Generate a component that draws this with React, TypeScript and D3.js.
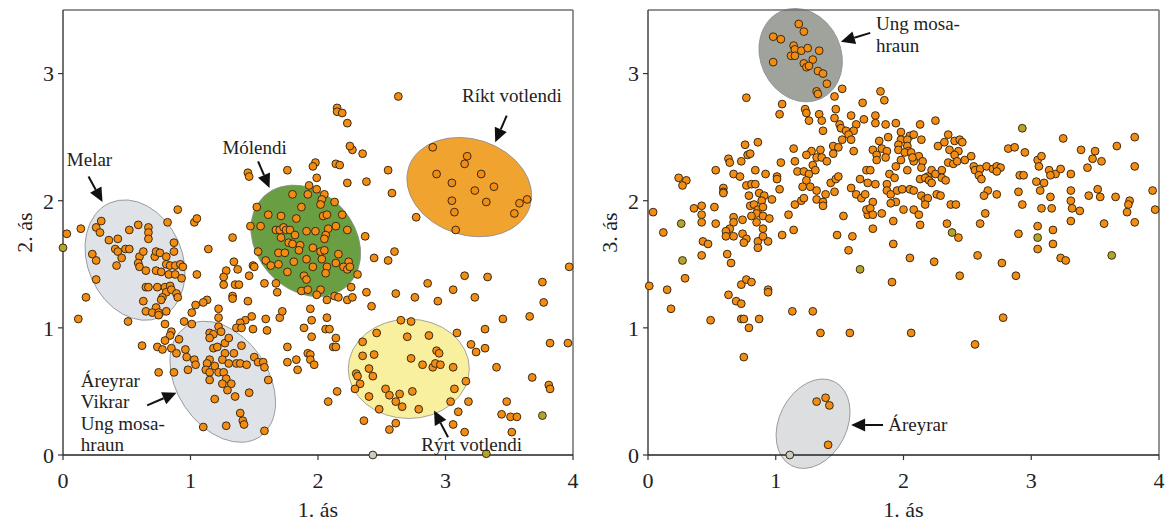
import React from "react";
import * as d3 from "d3";

// Tick values shared by both panels
const xTicks = [0, 1, 2, 3, 4];
const yTicks = [0, 1, 2, 3];

// Panel 1: axis 1 vs axis 2 site scores
const leftPoints: [number, number][] = [
  [0.30,1.84],[0.26,1.79],[0.29,1.75],[0.14,1.78],[0.03,1.74],
  [0.52,1.77],[0.59,1.81],[0.67,1.79],[0.67,1.75],[0.67,1.70],[0.82,1.83],[0.90,1.93],[1.03,1.83],[1.05,1.86],
  [0.36,1.69],[0.43,1.70],[0.41,1.62],[0.43,1.60],[0.49,1.62],[0.52,1.62],[0.23,1.58],[0.26,1.53],[0.46,1.55],[0.42,1.49],
  [0.60,1.56],[0.63,1.60],[0.59,1.51],[0.60,1.48],[0.65,1.45],[0.72,1.56],[0.73,1.60],[0.76,1.59],[0.81,1.56],[0.87,1.67],[0.87,1.60],
  [0.81,1.50],[0.73,1.45],[0.77,1.44],[0.84,1.49],[0.88,1.49],[0.92,1.50],[0.94,1.48],[0.83,1.42],[0.88,1.42],[0.93,1.39],
  [0.26,1.38],[0.18,1.24],[0.65,1.32],[0.67,1.32],[0.74,1.32],[0.80,1.32],[0.84,1.33],[0.81,1.28],[0.85,1.30],[0.89,1.27],[0.90,1.24],
  [0.78,1.24],[0.77,1.22],[0.63,1.21],[0.73,1.16],[0.65,1.13],[0.70,1.12],[0.75,1.12],[0.81,1.13],[0.75,1.10],[0.12,1.07],[0.51,1.05],
  [1.05,1.42],[1.14,1.62],[1.33,1.71],[1.34,1.52],[1.28,1.45],[1.26,1.40],[1.26,1.34],[1.37,1.46],[1.35,1.34],[1.38,1.34],[1.33,1.25],[1.33,1.23],
  [1.46,1.41],[1.45,1.21],[1.13,1.22],[1.10,1.20],[1.04,1.18],[1.22,1.15],[1.01,1.12],[1.22,1.08],[1.48,1.09],[1.43,1.06],[1.39,1.04],[1.36,1.00],[1.40,1.00],[1.49,0.99],
  [1.59,1.07],[1.60,0.98],[1.70,1.08],[1.72,1.13],
  [0.80,1.03],[0.95,1.05],[1.01,1.03],[0.85,0.97],[0.84,0.94],[0.80,0.90],[0.91,0.91],[0.62,0.86],[0.74,0.85],[0.78,0.83],[0.85,0.84],[0.89,0.80],[0.96,0.83],[0.97,0.77],[1.03,0.75],[1.04,0.71],
  [1.15,0.96],[1.18,0.95],[1.15,0.92],[1.22,1.01],[1.24,0.97],[1.18,0.84],[1.21,0.85],[1.27,0.88],[1.30,0.92],[1.40,0.86],[1.27,0.80],[1.34,0.80],[1.25,0.75],[1.30,0.72],[1.36,0.72],[1.39,0.72],[1.44,0.71],
  [1.50,0.77],[1.53,0.73],[1.57,0.73],[1.58,0.69],[1.15,0.75],[1.13,0.72],[1.12,0.67],[1.15,0.65],[1.19,0.70],[1.22,0.65],[1.26,0.65],[1.28,0.60],[1.32,0.56],[1.25,0.56],[1.15,0.59],
  [0.75,0.65],[0.87,0.65],[0.98,0.67],[1.76,0.85],[1.76,0.73],[1.83,0.75],[1.84,0.67],[1.61,0.59],
  [2.27,2.40],[2.35,2.37],[1.98,2.30],[1.96,2.27],[2.14,2.29],[2.17,2.28],[1.76,2.24],[1.45,2.22],[1.46,2.19],[2.55,2.24],[1.99,2.18],[2.23,2.14],[2.38,2.15],[1.93,2.12],[1.99,2.09],
  [1.80,2.05],[1.92,2.05],[2.05,2.05],[2.03,2.01],[2.13,1.99],[2.02,1.97],[2.58,2.06],[1.52,1.95],[1.61,1.89],[1.71,1.88],[1.87,1.95],[2.04,1.88],[2.07,1.89],[2.19,1.89],[1.83,1.86],
  [1.47,1.80],[1.55,1.80],[1.67,1.77],[1.70,1.77],[1.73,1.79],[1.75,1.77],[1.78,1.77],[1.71,1.71],[1.82,1.73],[1.91,1.76],[1.98,1.76],[2.08,1.78],[2.14,1.80],[2.23,1.77],[2.77,1.87],
  [2.06,1.73],[2.05,1.70],[1.77,1.67],[1.80,1.66],[1.86,1.65],[1.96,1.63],[2.02,1.60],[2.05,1.61],[1.85,1.61],[1.53,1.60],[1.69,1.59],[1.74,1.59],[2.16,1.58],[2.37,1.72],[2.44,1.55],[2.60,1.60],[2.55,1.53],
  [1.81,1.52],[1.91,1.54],[2.03,1.54],[2.14,1.51],[2.24,1.52],[1.59,1.53],[1.63,1.49],[1.69,1.50],[1.96,1.48],[2.07,1.48],[2.20,1.48],[2.23,1.46],[2.25,1.48],[1.76,1.44],[2.06,1.43],[1.89,1.41],[1.91,1.38],[2.31,1.42],
  [1.49,1.49],[1.50,1.48],[1.58,1.35],[1.67,1.35],[1.68,1.28],[1.87,1.29],[1.92,1.30],[2.02,1.30],[1.99,1.26],[2.07,1.22],[2.13,1.25],[2.16,1.24],[2.23,1.22],[2.27,1.24],[2.26,1.32],[2.38,1.28],[2.42,1.17],[2.61,1.27],[2.76,1.24],[2.86,1.35],[1.94,1.15],
  [2.63,2.82],[2.15,2.73],[2.15,2.70],[2.19,2.69],[2.23,2.61],[2.25,2.43],
  [2.90,2.42],[3.17,2.35],[3.15,2.29],[2.93,2.21],[3.28,2.21],[3.05,2.14],[3.38,2.11],[3.23,2.08],[3.05,2.00],[3.32,1.99],[3.58,1.98],[3.64,2.01],[3.07,1.91],[3.54,1.90],[3.08,1.77],
  [3.15,1.41],[3.33,1.40],[3.06,1.30],[2.94,1.21],[3.23,1.24],[3.76,1.36],[3.77,1.20],[3.97,1.48],[3.45,1.07],[3.66,1.09],[3.31,0.99],[3.20,0.87],[3.24,0.81],[3.31,0.84],[3.82,0.88],[3.96,0.88],
  [3.40,0.69],[3.68,0.61],[3.81,0.55],[3.82,0.52],[3.48,0.42],[3.44,0.32],[3.51,0.30],[3.56,0.30],[3.52,0.18],[3.15,0.18],[3.06,0.24],[3.10,0.34],[3.18,0.42],[3.04,0.42],[3.07,0.52],[3.16,0.58],[3.06,0.69],
  [2.93,0.82],[2.95,0.80],[3.09,0.96],[2.87,0.94],[2.70,0.93],[2.65,1.06],[2.73,1.05],[2.46,0.96],[2.35,0.89],[2.44,0.79],[2.35,0.78],[2.73,0.76],[2.82,0.71],[2.90,0.69],[2.92,0.72],[2.96,0.71],
  [2.40,0.68],[2.43,0.62],[2.30,0.64],[2.31,0.62],[2.33,0.56],[2.29,0.52],[2.40,0.46],[2.53,0.52],[2.56,0.47],[2.64,0.48],[2.61,0.42],[2.66,0.38],[2.74,0.50],[2.79,0.36],[2.48,0.36],[2.36,0.27],[2.61,0.25],[2.56,0.20],
  [2.15,0.50],[2.08,0.42],[1.95,1.06],[1.89,1.00],[2.07,1.08],[2.06,0.99],[2.09,0.99],[1.95,0.93],[2.14,0.92],[2.12,0.85],[2.14,0.85],[1.92,0.80],[1.94,0.79],[1.94,0.75],[1.97,0.71],
  [1.10,0.22],[1.19,0.44],[1.28,0.23],[1.29,0.51],[1.35,0.46],[1.46,0.49],[1.39,0.33],[1.41,0.27],[1.42,0.24],[1.58,0.19],
];
const leftOlivePoints: [number, number][] = [[0.00,1.63],[3.76,0.31],[3.32,0.01]];
const leftPalePoints: [number, number][] = [[2.43,0.0]];

// Panel 2: axis 1 vs axis 3 site scores
const rightPoints: [number, number][] = [
  [1.18,3.39],[1.22,3.33],[0.98,3.29],[1.04,3.27],[1.14,3.22],[1.15,3.19],[1.20,3.18],[1.25,3.20],[1.34,3.18],[1.12,3.14],[1.15,3.14],[1.22,3.08],[1.29,3.11],[1.24,3.05],[1.26,3.06],[0.98,3.09],[1.33,3.02],[1.37,3.00],[1.40,2.92],[1.32,2.86],[1.33,2.84],
  [0.77,2.81],[1.52,2.88],[1.82,2.86],[1.85,2.79],[1.05,2.76],[1.03,2.68],[1.46,2.82],[1.23,2.72],[1.24,2.69],[1.34,2.68],[1.47,2.72],[1.68,2.77],[1.26,2.63],[1.36,2.63],[1.46,2.65],[1.59,2.67],[1.69,2.64],[1.78,2.67],[1.78,2.61],[1.86,2.60],
  [1.50,2.60],[1.51,2.57],[1.63,2.60],[1.37,2.55],[1.55,2.55],[1.61,2.55],[1.57,2.52],[1.59,2.48],[1.52,2.48],[1.88,2.50],[1.81,2.47],[1.45,2.43],[1.49,2.42],[1.45,2.37],[1.14,2.41],[1.35,2.40],[1.28,2.39],[1.24,2.36],[1.32,2.34],[1.36,2.34],[1.40,2.31],
  [1.61,2.39],[1.76,2.40],[1.83,2.41],[1.87,2.39],[1.79,2.36],[1.86,2.34],[1.79,2.32],[0.76,2.44],[0.86,2.46],[0.78,2.36],[0.80,2.37],[0.63,2.33],[0.64,2.30],[0.73,2.31],[1.04,2.30],[1.15,2.31],[1.29,2.28],
  [0.53,2.24],[0.67,2.21],[0.72,2.19],[0.84,2.24],[0.92,2.21],[1.01,2.19],[1.01,2.17],[1.17,2.23],[1.22,2.23],[1.26,2.21],[1.31,2.24],[1.24,2.16],[1.27,2.11],[1.21,2.11],[1.32,2.08],[1.43,2.14],[1.47,2.17],[1.49,2.19],[1.46,2.07],[1.39,2.05],
  [1.66,2.17],[1.71,2.24],[1.74,2.24],[1.72,2.14],[1.78,2.13],[1.87,2.13],[1.87,2.08],[1.59,2.10],[1.63,2.05],[1.67,2.02],[1.70,2.05],[1.76,1.99],
  [0.24,2.18],[0.30,2.16],[0.27,2.12],[0.59,2.10],[0.59,2.07],[0.59,2.06],[0.77,2.12],[0.81,2.13],[0.84,2.13],[1.03,2.09],[0.79,2.04],[0.87,2.06],[0.91,2.04],[0.97,2.01],[0.80,1.96],[0.83,1.97],[0.89,2.00],[0.86,1.93],[0.90,1.95],[0.85,1.90],[0.81,1.88],[0.90,1.88],[0.95,1.86],[0.85,1.83],[0.90,1.78],
  [0.74,1.85],[0.67,1.87],[0.67,1.83],[0.64,1.78],[0.61,1.76],[0.61,1.72],[0.67,1.72],[0.74,1.74],[0.77,1.70],[0.75,1.67],[0.86,1.68],[0.94,1.68],[0.86,1.63],[0.90,1.72],
  [0.53,1.82],[0.52,1.95],[0.42,1.96],[0.36,1.94],[0.42,1.89],[0.42,1.83],[0.04,1.91],[0.12,1.75],[0.43,1.68],[0.47,1.66],[0.42,1.57],[0.62,1.58],[0.65,1.51],[0.29,1.39],[0.01,1.33],[0.15,1.30],[0.73,1.34],[0.77,1.38],[0.81,1.36],[0.94,1.30],
  [1.10,1.89],[1.05,1.73],[1.14,1.77],[1.15,1.97],[1.20,2.00],[1.22,2.02],[1.32,2.01],[1.37,1.99],[1.37,1.96],[1.53,1.88],[1.48,1.73],[1.60,1.72],[1.57,1.61],[1.76,1.78],[1.72,1.89],[1.71,1.93],[1.74,1.94],[1.76,1.89],[1.83,1.90],
  [1.94,2.61],[2.13,2.60],[2.25,2.63],[1.98,2.54],[1.98,2.48],[2.05,2.51],[2.08,2.52],[2.14,2.48],[2.03,2.48],[1.96,2.44],[1.96,2.40],[2.03,2.43],[2.04,2.39],[2.01,2.38],[2.06,2.38],[2.27,2.43],[2.32,2.46],[2.35,2.52],[2.40,2.47],[2.44,2.48],[2.46,2.46],[2.36,2.40],[2.43,2.39],[2.40,2.36],
  [2.12,2.35],[2.15,2.31],[2.08,2.31],[2.07,2.34],[1.98,2.32],[2.03,2.24],[1.94,2.27],[2.35,2.30],[2.39,2.29],[2.42,2.31],[2.48,2.32],[2.53,2.35],[2.14,2.26],[2.22,2.24],[2.25,2.21],[2.30,2.24],[2.19,2.19],[2.13,2.17],[2.17,2.18],[2.20,2.16],[2.22,2.14],[2.30,2.18],[2.33,2.16],
  [1.89,2.21],[1.93,2.18],[1.90,2.05],[1.95,2.08],[1.99,2.09],[2.05,2.09],[2.08,2.08],[1.94,1.99],[1.90,1.98],[2.14,2.04],[2.17,2.01],[2.19,2.02],[2.17,1.97],[2.26,2.05],[2.29,2.04],[2.00,1.93],[2.08,1.93],[2.12,1.89],[2.37,1.97],[2.41,1.97],
  [2.55,2.27],[2.56,2.24],[2.60,2.25],[2.65,2.27],[2.59,2.20],[2.61,2.17],[2.70,2.25],[2.73,2.27],[2.76,2.26],[2.73,2.23],[2.82,2.41],[2.87,2.42],[2.95,2.38],[2.66,2.08],[2.63,2.04],[2.73,2.05],[2.90,2.07],[2.93,1.97],[2.91,2.20],[2.94,2.20],
  [3.05,2.32],[3.08,2.35],[3.06,2.27],[3.04,2.15],[3.10,2.14],[3.07,2.08],[3.15,2.03],[3.08,1.94],[3.16,1.94],[3.14,2.24],[3.19,2.21],[3.15,2.20],[3.23,2.25],[3.25,2.49],[3.31,2.21],[3.31,2.08],[3.31,2.00],[3.32,1.94],[3.38,1.92],[3.31,1.84],
  [3.39,2.40],[3.50,2.39],[3.48,2.33],[3.55,2.31],[3.44,2.26],[3.67,2.43],[3.52,2.09],[3.45,2.04],[3.54,2.03],[3.66,2.03],[3.77,2.00],[3.76,1.97],[3.75,1.91],[3.57,1.82],[3.81,2.50],[3.81,2.27],[3.81,1.83],[3.95,2.08],[3.97,1.93],
  [1.92,1.84],[2.13,1.81],[2.34,1.82],[2.43,1.71],[2.60,1.82],[2.64,1.90],[2.90,1.74],[3.05,1.80],[3.05,1.62],[3.17,1.77],[3.17,1.66],[3.23,1.55],[3.27,1.53],[1.92,1.66],[2.05,1.55],[2.24,1.52],[2.58,1.57],[2.77,1.51],[1.91,1.36],[2.44,1.41],[2.88,1.41],
  [0.18,1.15],[0.49,1.06],[0.63,1.26],[0.69,1.21],[0.73,1.19],[0.73,1.07],[0.75,1.07],[0.79,1.00],[0.87,1.07],[0.94,1.28],[0.75,0.77],[1.13,1.13],[1.29,1.13],[1.35,0.96],[1.58,0.96],
  [1.32,0.42],[1.39,0.45],[1.42,0.39],[1.41,0.08],
  [2.06,0.96],[2.56,0.87],[2.78,1.08],
];
const rightOlivePoints: [number, number][] = [[0.27,1.53],[0.26,1.82],[1.66,1.46],[2.38,1.75],[3.05,1.71],[2.93,2.57],[3.63,1.57]];
const rightPalePoints: [number, number][] = [[1.11,0.0]];

// Vegetation-group envelopes: centre, semi-axes (axis units), rotation in degrees
type Env = { cx: number; cy: number; rx: number; ry: number; angle: number; fill: string };
const leftEnvelopes: Env[] = [
  { cx: 0.565, cy: 1.533, rx: 0.49, ry: 0.37, angle: 66, fill: "#dfe2e6" },
  { cx: 1.253, cy: 0.576, rx: 0.52, ry: 0.356, angle: 56, fill: "#dfe2e6" },
  { cx: 1.904, cy: 1.684, rx: 0.48, ry: 0.383, angle: 47, fill: "#6a9e42" },
  { cx: 3.186, cy: 2.107, rx: 0.50, ry: 0.376, angle: 18, fill: "#f1a32f" },
  { cx: 2.712, cy: 0.678, rx: 0.475, ry: 0.39, angle: 0, fill: "#f8ef9f" },
];
const rightEnvelopes: Env[] = [
  { cx: 1.195, cy: 3.145, rx: 0.376, ry: 0.315, angle: 65, fill: "#9fa39c" },
  { cx: 1.292, cy: 0.246, rx: 0.369, ry: 0.265, angle: -63, fill: "#dcdee0" },
];

type Label = { lines: string[]; x: number; y: number };
const leftLabels: Label[] = [
  { lines: ["Melar"], x: 0.03, y: 2.27 },
  { lines: ["Mólendi"], x: 1.25, y: 2.37 },
  { lines: ["Ríkt votlendi"], x: 3.13, y: 2.78 },
  { lines: ["Áreyrar", "Vikrar", "Ung mosa-", "hraun"], x: 0.14, y: 0.537 },
  { lines: ["Rýrt votlendi"], x: 2.81, y: 0.03 },
];
const rightLabels: Label[] = [
  { lines: ["Ung mosa-", "hraun"], x: 1.785, y: 3.34 },
  { lines: ["Áreyrar"], x: 1.88, y: 0.19 },
];

type Arrow = { from: [number, number]; to: [number, number] };
const leftArrows: Arrow[] = [
  { from: [0.20, 2.19], to: [0.31, 1.99] },
  { from: [1.53, 2.31], to: [1.62, 2.10] },
  { from: [3.48, 2.67], to: [3.39, 2.46] },
  { from: [0.66, 0.39], to: [0.89, 0.49] },
  { from: [3.02, 0.14], to: [2.91, 0.35] },
];
const rightArrows: Arrow[] = [
  { from: [1.74, 3.32], to: [1.51, 3.25] },
  { from: [1.84, 0.236], to: [1.59, 0.236] },
];

const FONT = "Liberation Serif, Times New Roman, DejaVu Serif, serif";
const TOP = 10;
const BOTTOM = 455;

type PanelProps = {
  left: number;
  right: number;
  yTitle: string;
  points: [number, number][];
  olive: [number, number][];
  pale: [number, number][];
  envelopes: Env[];
  labels: Label[];
  arrows: Arrow[];
};

const textStyle = { fontFamily: FONT };

function Panel({ left, right, yTitle, points, olive, pale, envelopes, labels, arrows }: PanelProps) {
  const x = d3.scaleLinear().domain([0, 4]).range([left, right]);
  const y = d3.scaleLinear().domain([0, 3.5]).range([BOTTOM, TOP]);
  const unit = x(1) - x(0);

  const dot = (p: [number, number], i: number, fill: string) => (
    <circle key={i} cx={x(p[0])} cy={y(p[1])} r={3.9} fill={fill} stroke="#3a2a14" strokeWidth={1} />
  );

  return (
    <g>
      {envelopes.map((e, i) => {
        const cx = x(e.cx);
        const cy = y(e.cy);
        return (
          <ellipse
            key={i}
            cx={cx}
            cy={cy}
            rx={e.rx * unit}
            ry={e.ry * unit}
            transform={`rotate(${e.angle} ${cx} ${cy})`}
            fill={e.fill}
            stroke="#8d9096"
            strokeWidth={0.8}
          />
        );
      })}

      {/* frame */}
      <line x1={left} x2={right} y1={TOP} y2={TOP} stroke="#6f6f6f" strokeWidth={1.5} />
      <line x1={right} x2={right} y1={TOP} y2={BOTTOM} stroke="#6f6f6f" strokeWidth={1.5} />
      <line x1={left} x2={left} y1={TOP} y2={BOTTOM} stroke="#444" strokeWidth={1.5} />
      <line x1={left} x2={right} y1={BOTTOM} y2={BOTTOM} stroke="#222" strokeWidth={1.5} />

      {points.map((p, i) => dot(p, i, "#f28c12"))}
      {olive.map((p, i) => dot(p, i, "#b3a52a"))}
      {pale.map((p, i) => dot(p, i, "#c9cbc6"))}

      {/* ticks */}
      {yTicks.map((t) => (
        <g key={"y" + t}>
          <line x1={left - 5} x2={left} y1={y(t)} y2={y(t)} stroke="#333" strokeWidth={1.2} />
          <text x={left - 9} y={y(t)} dy="0.36em" textAnchor="end" style={textStyle} fontSize={22} fill="#222">
            {t}
          </text>
        </g>
      ))}
      {xTicks.map((t) => (
        <g key={"x" + t}>
          <line x1={x(t)} x2={x(t)} y1={BOTTOM} y2={BOTTOM + 5} stroke="#333" strokeWidth={1.2} />
          <text x={x(t)} y={BOTTOM + 33} textAnchor="middle" style={textStyle} fontSize={22} fill="#222">
            {t}
          </text>
        </g>
      ))}

      <text x={x(2)} y={517} textAnchor="middle" style={textStyle} fontSize={22} fill="#222">
        1. ás
      </text>
      <text
        transform={`translate(${left - 31},${y(1.75)}) rotate(-90)`}
        textAnchor="middle"
        style={textStyle}
        fontSize={22}
        fill="#222"
      >
        {yTitle}
      </text>

      {labels.map((l, i) => (
        <text key={i} x={x(l.x)} y={y(l.y)} style={textStyle} fontSize={19} fill="#222">
          {l.lines.map((s, j) => (
            <tspan key={j} x={x(l.x)} dy={j === 0 ? 0 : 21.5}>
              {s}
            </tspan>
          ))}
        </text>
      ))}

      {arrows.map((a, i) => {
        const x0 = x(a.from[0]);
        const y0 = y(a.from[1]);
        const x1 = x(a.to[0]);
        const y1 = y(a.to[1]);
        const ang = Math.atan2(y1 - y0, x1 - x0);
        const headLen = 14;
        const headW = 6.5;
        const bx = x1 - headLen * Math.cos(ang);
        const by = y1 - headLen * Math.sin(ang);
        const nx = -Math.sin(ang) * headW;
        const ny = Math.cos(ang) * headW;
        const head = `${x1},${y1} ${bx + nx},${by + ny} ${bx - nx},${by - ny}`;
        return (
          <g key={i}>
            <line x1={x0} y1={y0} x2={bx} y2={by} stroke="#111" strokeWidth={2} />
            <polygon points={head} fill="#111" />
          </g>
        );
      })}
    </g>
  );
}

export default function App() {
  return (
    <svg
      width={1166}
      height={525}
      style={{ position: "absolute", left: 0, top: 0, background: "#fff" }}
    >
      <rect x={0} y={0} width={1166} height={525} fill="#fff" />
      <Panel
        left={63}
        right={573}
        yTitle="2. ás"
        points={leftPoints}
        olive={leftOlivePoints}
        pale={leftPalePoints}
        envelopes={leftEnvelopes}
        labels={leftLabels}
        arrows={leftArrows}
      />
      <Panel
        left={648}
        right={1159}
        yTitle="3. ás"
        points={rightPoints}
        olive={rightOlivePoints}
        pale={rightPalePoints}
        envelopes={rightEnvelopes}
        labels={rightLabels}
        arrows={rightArrows}
      />
    </svg>
  );
}
